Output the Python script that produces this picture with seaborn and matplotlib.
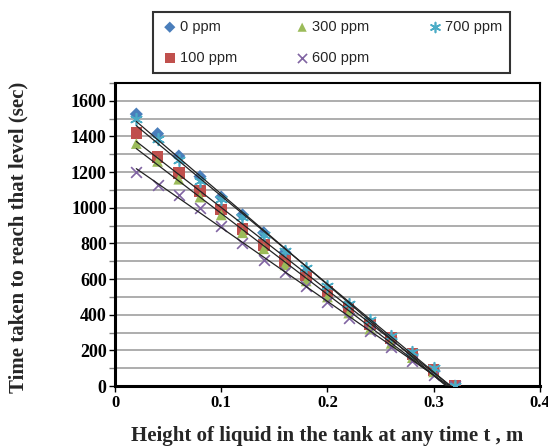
import matplotlib
matplotlib.use("Agg")
import matplotlib.pyplot as plt
import seaborn as sns
import numpy as np
import pandas as pd

heights = [0.02, 0.04, 0.06, 0.08, 0.10, 0.12, 0.14, 0.16, 0.18, 0.20, 0.22, 0.24, 0.26, 0.28, 0.30, 0.32]
t_0ppm   = [1525, 1415, 1290, 1175, 1060, 960, 860, 750, 640, 540, 440, 350, 270, 180, 90, 0]
t_100ppm = [1420, 1285, 1195, 1095, 990, 880, 790, 700, 620, 530, 440, 350, 270, 180, 90, 0]
t_300ppm = [1360, 1260, 1160, 1060, 960, 860, 770, 680, 590, 500, 410, 320, 240, 160, 80, 0]
t_600ppm = [1200, 1130, 1070, 1000, 900, 800, 710, 640, 560, 470, 380, 310, 220, 140, 60, 0]
t_700ppm = [1500, 1385, 1265, 1150, 1050, 950, 850, 760, 660, 560, 460, 370, 280, 190, 100, 0]
series_labels = ["0 ppm", "100 ppm", "300 ppm", "600 ppm", "700 ppm"]

sns.set_theme(style="white")
plt.rcParams['font.family'] = ['Liberation Serif', 'DejaVu Serif']

fig = plt.figure(figsize=(5.48, 4.48), dpi=100)
ax = fig.add_axes([0.21, 0.138, 0.775, 0.677])

styles = [
    dict(marker="D", color="#4a7ebb", s=45),
    dict(marker="s", color="#c0504d", s=70),
    dict(marker="^", color="#9bbb59", s=60),
    dict(marker="x", color="#8064a2", s=60, linewidth=1.2),
    dict(marker=(6, 2, 0), color="#4bacc6", s=70, linewidth=1.2),
]
all_series = [t_0ppm, t_100ppm, t_300ppm, t_600ppm, t_700ppm]

for lab, vals, st in zip(series_labels, all_series, styles):
    df = pd.DataFrame({"h": heights, "t": vals})
    sns.scatterplot(data=df, x="h", y="t", ax=ax, label=lab,
                    edgecolor="none" if st["marker"] not in ("x", (6, 2, 0)) else st["color"],
                    zorder=3, **st)
for vals in all_series:
    df = pd.DataFrame({"h": heights, "t": vals})
    sns.regplot(data=df, x="h", y="t", ax=ax, scatter=False, ci=None, truncate=True,
                line_kws=dict(color="#222222", linewidth=0.9, zorder=4))

ax.set_xlim(0, 0.4)
ax.set_ylim(0, 1700)
ax.set_xticks([0, 0.1, 0.2, 0.3, 0.4])
ax.set_xticklabels(["0", "0.1", "0.2", "0.3", "0.4"])
ax.set_yticks(np.arange(0, 1601, 200))
ax.set_yticks(np.arange(0, 1701, 100), minor=True)
ax.yaxis.grid(True, which="both", color="#a0a0a0", linewidth=1.2)
ax.set_axisbelow(True)
ax.tick_params(axis="both", which="major", direction="out", length=4, width=1, colors="black", pad=2)
ax.tick_params(axis="y", which="major", labelsize=13)
ax.tick_params(axis="x", which="major", labelsize=12)
ax.tick_params(axis="y", which="minor", direction="out", length=4, width=1, color="#808080", left=True)
ax.tick_params(axis="x", bottom=True)
ax.tick_params(axis="y", left=True)
for lbl in ax.get_xticklabels() + ax.get_yticklabels():
    lbl.set_fontweight("bold")
for sp in ax.spines.values():
    sp.set_color("black")
    sp.set_linewidth(1.5)
ax.spines["left"].set_linewidth(2.2)
ax.spines["bottom"].set_linewidth(2.2)

ax.set_xlabel("Height of liquid in the tank at any time t , m", fontsize=15, fontweight="bold")
ax.set_ylabel("Time taken to reach that level (sec)", fontsize=15, fontweight="bold")
ax.xaxis.set_label_coords(0.5, -0.13)
ax.yaxis.set_label_coords(-0.203, 0.49)

handles, labels = ax.get_legend_handles_labels()
leg = fig.legend(handles, labels, ncol=3, loc="upper left",
                 bbox_to_anchor=(153 / 548, 1 - 73 / 448, 357 / 548, 61 / 448), mode="expand",
                 prop={"family": "Liberation Sans", "size": 10.5}, frameon=True, fancybox=False,
                 edgecolor="black", handletextpad=0.1, handlelength=1.2,
                 borderpad=0.55, borderaxespad=0, labelspacing=1.15, markerscale=0.85)
leg.get_frame().set_linewidth(1.5)
if ax.get_legend():
    ax.get_legend().remove()

fig.savefig("out.png", dpi=100)
